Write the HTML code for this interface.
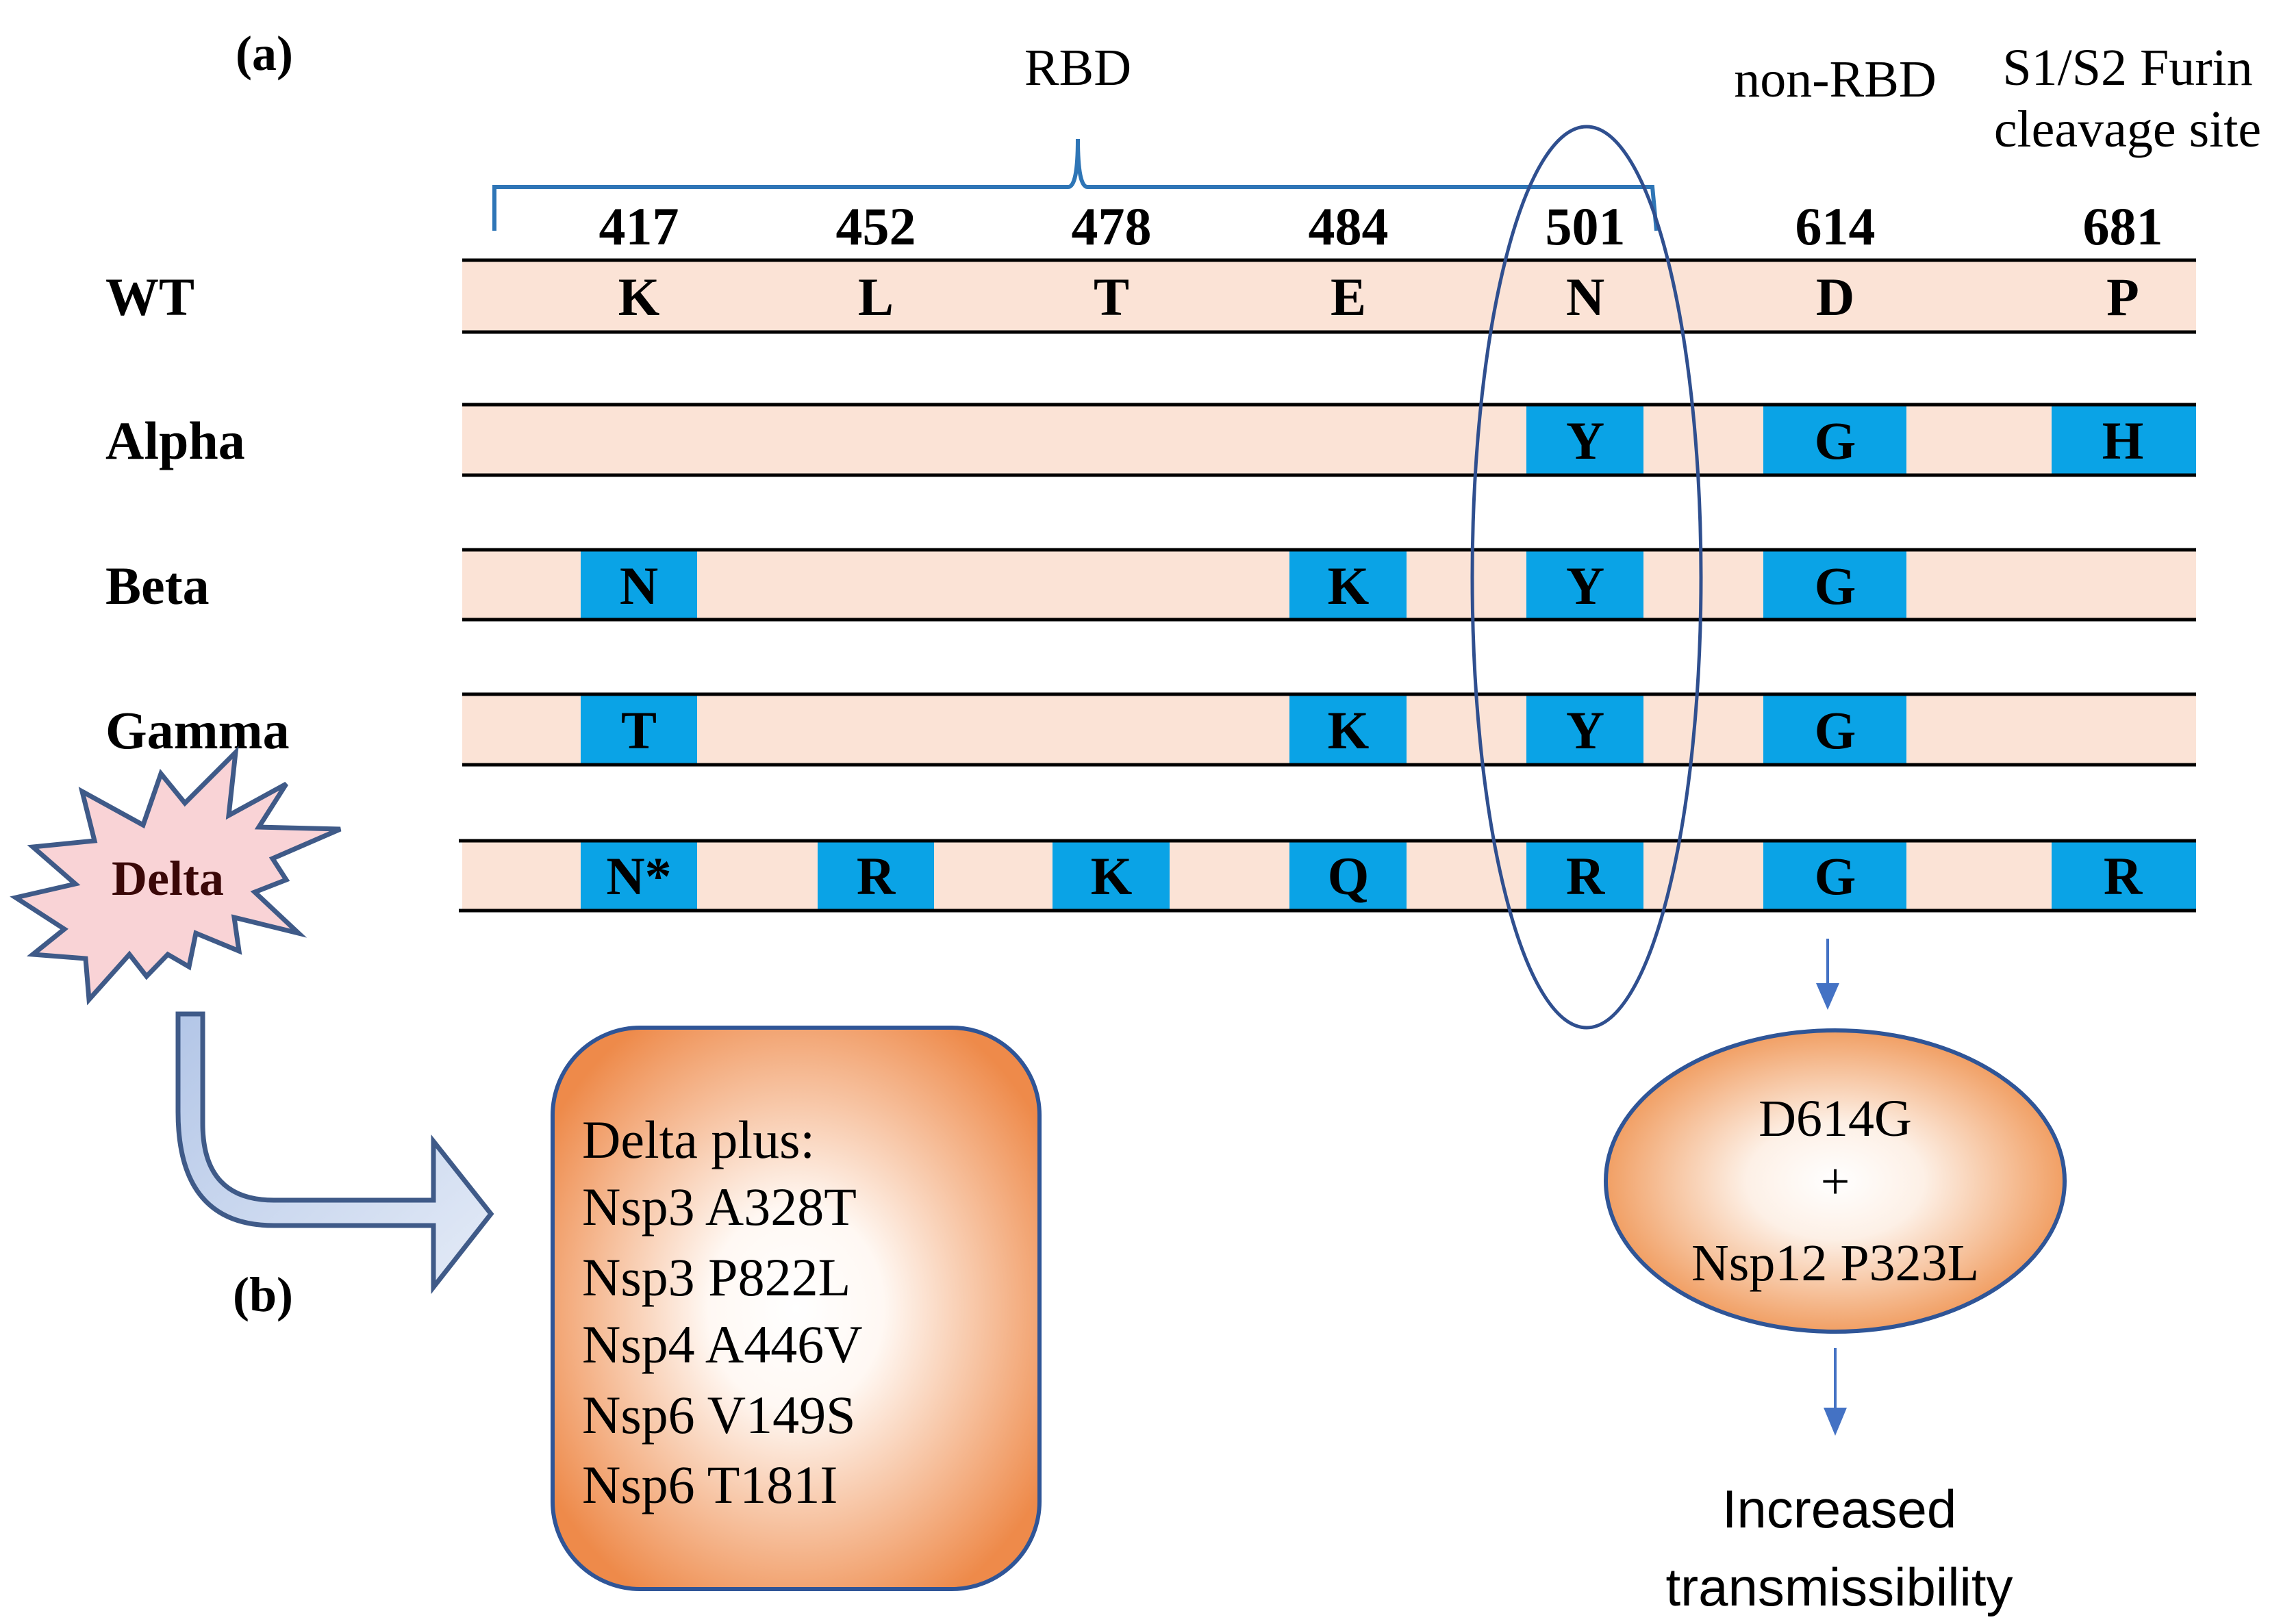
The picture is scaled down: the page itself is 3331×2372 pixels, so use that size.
<!DOCTYPE html>
<html><head><meta charset="utf-8"><style>html,body{margin:0;padding:0;background:#fff}svg{display:block}</style></head>
<body>
<svg xmlns="http://www.w3.org/2000/svg" width="3331" height="2372" viewBox="0 0 3331 2372">
<defs>
<radialGradient id="og" cx="50%" cy="50%" r="60%">
<stop offset="0" stop-color="#ffffff"/><stop offset="0.3" stop-color="#fff8f3"/><stop offset="1" stop-color="#ee8a4a"/>
</radialGradient>
<radialGradient id="og2" cx="50%" cy="50%" r="55%">
<stop offset="0" stop-color="#ffffff"/><stop offset="0.35" stop-color="#fdf0e6"/><stop offset="1" stop-color="#ef924f"/>
</radialGradient>
<linearGradient id="bg" x1="0" y1="0" x2="1" y2="1">
<stop offset="0" stop-color="#b3c6e7"/><stop offset="1" stop-color="#e4ebf7"/>
</linearGradient>
</defs>
<g font-family="'Liberation Serif', serif" fill="#000">
<text x="386" y="102" font-size="72" font-weight="bold" text-anchor="middle">(a)</text>
<text x="1574" y="124" font-size="76" text-anchor="middle">RBD</text>
<text x="2680" y="141" font-size="76" text-anchor="middle">non-RBD</text>
<text x="3107" y="124" font-size="76" text-anchor="middle">S1/S2 Furin</text>
<text x="3107" y="214" font-size="76" text-anchor="middle">cleavage site</text>
</g>
<path d="M722,337 L722,273 L1560,273 Q1574,273 1574,203 Q1574,273 1588,273 L2413,273 L2419,337" fill="none" stroke="#2e75b6" stroke-width="6"/>
<g font-family="'Liberation Serif', serif" font-weight="bold" font-size="78" text-anchor="middle">
<text x="933" y="357">417</text><text x="1279" y="357">452</text><text x="1623" y="357">478</text><text x="1969" y="357">484</text><text x="2315" y="357">501</text><text x="2680" y="357">614</text><text x="3100" y="357">681</text>
</g>
<g fill="#fbe3d6">
<rect x="675" y="380" width="2532" height="105"/>
<rect x="675" y="591" width="2532" height="103"/>
<rect x="675" y="803" width="2532" height="102"/>
<rect x="675" y="1014" width="2532" height="103"/>
<rect x="675" y="1228" width="2532" height="102"/>
</g>
<g fill="#0aa3e6">
<rect x="2229" y="591" width="171" height="103"/><rect x="2575" y="591" width="209" height="103"/><rect x="2996" y="591" width="211" height="103"/>
<rect x="848" y="803" width="170" height="102"/><rect x="1883" y="803" width="171" height="102"/><rect x="2229" y="803" width="171" height="102"/><rect x="2575" y="803" width="209" height="102"/>
<rect x="848" y="1014" width="170" height="103"/><rect x="1883" y="1014" width="171" height="103"/><rect x="2229" y="1014" width="171" height="103"/><rect x="2575" y="1014" width="209" height="103"/>
<rect x="848" y="1228" width="170" height="102"/><rect x="1194" y="1228" width="170" height="102"/><rect x="1537" y="1228" width="171" height="102"/><rect x="1883" y="1228" width="171" height="102"/><rect x="2229" y="1228" width="171" height="102"/><rect x="2575" y="1228" width="209" height="102"/><rect x="2996" y="1228" width="211" height="102"/>
</g>
<g stroke="#000" stroke-width="5">
<line x1="675" y1="380" x2="3207" y2="380"/><line x1="675" y1="485" x2="3207" y2="485"/>
<line x1="675" y1="591" x2="3207" y2="591"/><line x1="675" y1="694" x2="3207" y2="694"/>
<line x1="675" y1="803" x2="3207" y2="803"/><line x1="675" y1="905" x2="3207" y2="905"/>
<line x1="675" y1="1014" x2="3207" y2="1014"/><line x1="675" y1="1117" x2="3207" y2="1117"/>
<line x1="670" y1="1228" x2="3207" y2="1228"/><line x1="670" y1="1330" x2="3207" y2="1330"/>
</g>
<g font-family="'Liberation Serif', serif" font-weight="bold" font-size="78" text-anchor="middle">
<text x="933" y="460">K</text><text x="1279" y="460">L</text><text x="1623" y="460">T</text><text x="1969" y="460">E</text><text x="2315" y="460">N</text><text x="2680" y="460">D</text><text x="3100" y="460">P</text>
<text x="2315" y="670">Y</text><text x="2680" y="670">G</text><text x="3100" y="670">H</text>
<text x="933" y="882">N</text><text x="1969" y="882">K</text><text x="2315" y="882">Y</text><text x="2680" y="882">G</text>
<text x="933" y="1093">T</text><text x="1969" y="1093">K</text><text x="2315" y="1093">Y</text><text x="2680" y="1093">G</text>
<text x="933" y="1306">N*</text><text x="1279" y="1306">R</text><text x="1623" y="1306">K</text><text x="1969" y="1306">Q</text><text x="2315" y="1306">R</text><text x="2680" y="1306">G</text><text x="3100" y="1306">R</text>
</g>
<g font-family="'Liberation Serif', serif" font-weight="bold" font-size="78">
<text x="154" y="460">WT</text><text x="154" y="670">Alpha</text><text x="154" y="882">Beta</text><text x="154" y="1093">Gamma</text>
</g>
<polygon points="344,1099 334,1191 418,1145 378,1208 497,1211 398,1254 418,1285 372,1303 436,1363 342,1340 349,1389 286,1363 276,1412 245,1394 214,1426 189,1394 130,1460 125,1400 48,1394 94,1357 23,1311 110,1291 48,1237 138,1228 120,1156 209,1205 235,1130 270,1173" fill="#f9d3d6" stroke="#3f5a88" stroke-width="7" stroke-linejoin="miter"/>
<text x="245" y="1307" font-family="'Liberation Serif', serif" font-weight="bold" font-size="72" fill="#3a0808" text-anchor="middle">Delta</text>
<ellipse cx="2317" cy="843" rx="167" ry="658" fill="none" stroke="#2f4f8f" stroke-width="5"/>
<path d="M260,1481 L296,1481 L296,1641 Q296,1753 400,1753 L633,1753 L633,1667 L717,1773 L633,1880 L633,1790 L400,1790 Q260,1790 260,1624 Z" fill="url(#bg)" stroke="#3f5a88" stroke-width="7"/>
<text x="384" y="1915" font-family="'Liberation Serif', serif" font-weight="bold" font-size="72" text-anchor="middle">(b)</text>
<rect x="807" y="1501" width="711" height="820" rx="128" fill="url(#og)" stroke="#2f5597" stroke-width="6"/>
<g font-family="'Liberation Serif', serif" font-size="78">
<text x="850" y="1691">Delta plus:</text><text x="850" y="1789">Nsp3 A328T</text><text x="850" y="1892">Nsp3 P822L</text><text x="850" y="1990">Nsp4 A446V</text><text x="850" y="2093">Nsp6 V149S</text><text x="850" y="2195">Nsp6 T181I</text>
</g>
<line x1="2669" y1="1371" x2="2669" y2="1440" stroke="#4472c4" stroke-width="4"/>
<polygon points="2652,1436 2686,1436 2669,1475" fill="#4472c4"/>
<ellipse cx="2680" cy="1725" rx="335" ry="220" fill="url(#og2)" stroke="#2f5597" stroke-width="6"/>
<g font-family="'Liberation Serif', serif" font-size="76" text-anchor="middle">
<text x="2680" y="1659">D614G</text><text x="2680" y="1751">+</text><text x="2680" y="1870">Nsp12 P323L</text>
</g>
<line x1="2680" y1="1969" x2="2680" y2="2060" stroke="#4472c4" stroke-width="4"/>
<polygon points="2663,2056 2697,2056 2680,2097" fill="#4472c4"/>
<g font-family="'Liberation Sans', sans-serif" font-size="78" text-anchor="middle">
<text x="2686" y="2231">Increased</text><text x="2686" y="2345">transmissibility</text>
</g>
</svg>
</body></html>
